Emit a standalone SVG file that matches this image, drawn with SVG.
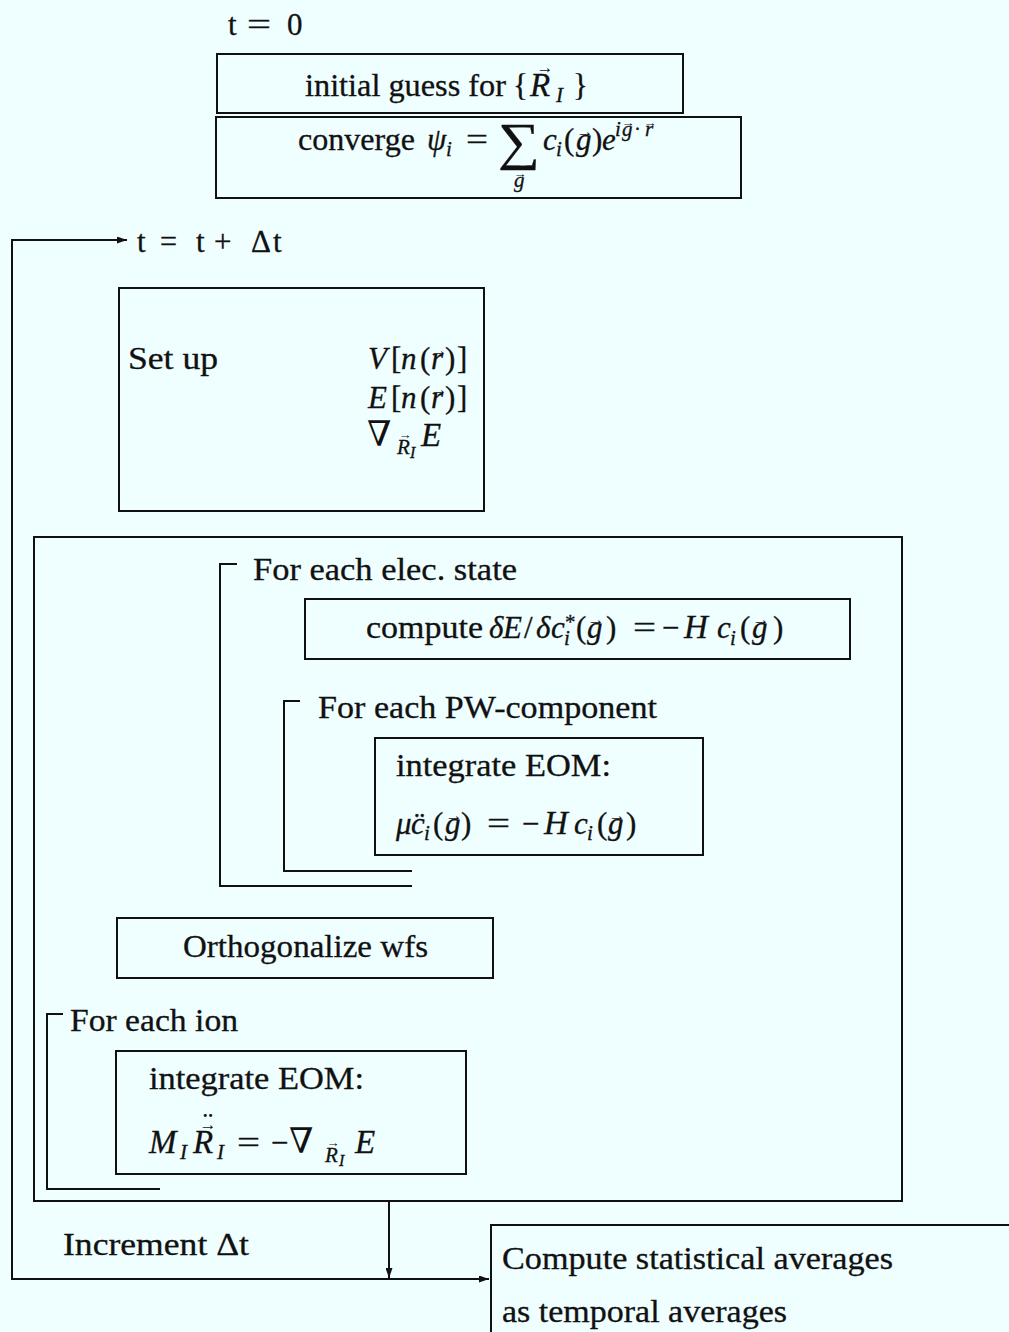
<svg xmlns="http://www.w3.org/2000/svg" width="1009" height="1332" viewBox="0 0 1009 1332">
<style>
.t{font-family:"Liberation Serif","Times New Roman","DejaVu Serif",serif;font-size:31px;fill:#111;stroke:#111;stroke-width:0.3}
.i{font-style:italic}
.s{font-size:21px}
.ss{font-size:16px}
.b{font-size:33px}
.nb{font-family:"DejaVu Serif","Liberation Serif",serif;font-size:35px;stroke-width:0}
.v{font-family:"Liberation Serif","DejaVu Serif",serif;font-size:17px;fill:#111;text-anchor:middle}
.vs{font-family:"Liberation Serif","DejaVu Serif",serif;font-size:13px;fill:#111;text-anchor:middle}
.dd{font-family:"Liberation Serif",serif;font-size:31px;fill:#111;text-anchor:middle}
.box{fill:none;stroke:#111;stroke-width:2}
.ln{fill:none;stroke:#111;stroke-width:2}
</style>
<defs>
<marker id="ah" viewBox="0 0 10 7" refX="10" refY="3.5" markerWidth="10" markerHeight="7" markerUnits="userSpaceOnUse" orient="auto-start-reverse">
<path d="M0,0 L10,3.5 L0,7 z" fill="#111"/>
</marker>
</defs>
<rect x="0" y="0" width="1009" height="1332" fill="#effeff"/>

<g id="t0">
<text class="t" y="35"><tspan x="228">t</tspan><tspan x="247" textLength="24" lengthAdjust="spacingAndGlyphs">=</tspan><tspan x="287">0</tspan></text>
</g>

<g id="initial-guess">
<rect class="box" x="217" y="54" width="466" height="59"/>
<text class="t" y="96"><tspan x="305" textLength="201" lengthAdjust="spacingAndGlyphs">initial guess for</tspan><tspan x="513">{</tspan><tspan class="i b" x="530">R</tspan><tspan class="i s" x="556" y="102">I</tspan><tspan x="573" y="96">}</tspan></text>
<text class="v" x="545" y="73">→</text>
</g>

<g id="converge">
<rect class="box" x="216" y="117" width="525" height="81"/>
<text class="t" y="150"><tspan x="298" textLength="117" lengthAdjust="spacingAndGlyphs">converge</tspan><tspan class="i" x="427">ψ</tspan><tspan class="i s" x="446" y="156">i</tspan><tspan x="466" y="150" textLength="22" lengthAdjust="spacingAndGlyphs">=</tspan><tspan x="498" y="159" style="font-size:52px" textLength="42" lengthAdjust="spacingAndGlyphs">∑</tspan><tspan class="i" x="543" y="150">c</tspan><tspan class="i s" x="556" y="156">i</tspan><tspan x="564" y="150">(</tspan><tspan class="i" x="576">g</tspan><tspan x="592">)</tspan><tspan class="i" x="602">e</tspan><tspan class="i s" x="615" y="136">i</tspan><tspan class="i s" x="622" y="136">g</tspan><tspan class="s" x="634" y="136">·</tspan><tspan class="i s" x="645" y="136">r</tspan><tspan class="i s" x="514" y="187">g</tspan></text>
<text class="v" x="585" y="137">→</text>
<text class="vs" x="628" y="127">→</text>
<text class="vs" x="650" y="127">→</text>
<text class="vs" x="520" y="178">→</text>
</g>

<g id="t-update">
<text class="t" y="252"><tspan x="137">t</tspan><tspan x="160" textLength="17" lengthAdjust="spacingAndGlyphs">=</tspan><tspan x="196">t</tspan><tspan x="214">+</tspan><tspan x="251">Δ</tspan><tspan x="273">t</tspan></text>
</g>

<g id="setup">
<rect class="box" x="119" y="288" width="365" height="223"/>
<text class="t" x="128" y="369" textLength="90" lengthAdjust="spacingAndGlyphs">Set up</text>
<text class="t" y="369"><tspan class="i" x="368">V</tspan><tspan x="391">[</tspan><tspan class="i" x="401">n</tspan><tspan x="420">(</tspan><tspan class="i" x="431">r</tspan><tspan x="445">)</tspan><tspan x="457">]</tspan></text>
<text class="v" x="439" y="356">→</text>
<text class="t" y="408"><tspan class="i" x="368">E</tspan><tspan x="391">[</tspan><tspan class="i" x="401">n</tspan><tspan x="420">(</tspan><tspan class="i" x="431">r</tspan><tspan x="445">)</tspan><tspan x="457">]</tspan></text>
<text class="v" x="439" y="395">→</text>
<text class="t" y="446"><tspan class="nb" x="367">∇</tspan><tspan class="i s" x="397" y="454">R</tspan><tspan class="i ss" x="410" y="458">I</tspan><tspan class="i b" x="421" y="446">E</tspan></text>
<text class="vs" x="405" y="439">→</text>
</g>

<g id="md-loop">
<rect class="box" x="34" y="537" width="868" height="664"/>
</g>

<g id="elec-loop">
<path class="ln" d="M237,564 H220 V886 H412"/>
<text class="t" x="253" y="580" textLength="264" lengthAdjust="spacingAndGlyphs">For each elec. state</text>
</g>

<g id="compute-gradient">
<rect class="box" x="305" y="599" width="545" height="60"/>
<text class="t" y="638"><tspan x="366" textLength="117" lengthAdjust="spacingAndGlyphs">compute</tspan><tspan class="i" x="489">δ</tspan><tspan class="i" x="503">E</tspan><tspan x="524">/</tspan><tspan class="i" x="536">δ</tspan><tspan class="i" x="551">c</tspan><tspan class="s" x="565" y="629">*</tspan><tspan class="i s" x="564" y="645">i</tspan><tspan x="576" y="638">(</tspan><tspan class="i" x="587">g</tspan><tspan x="606">)</tspan><tspan x="633" textLength="23" lengthAdjust="spacingAndGlyphs">=</tspan><tspan x="662">−</tspan><tspan class="i b" x="684">H</tspan><tspan class="i" x="717">c</tspan><tspan class="i s" x="730" y="645">i</tspan><tspan x="740" y="638">(</tspan><tspan class="i" x="752">g</tspan><tspan x="773">)</tspan></text>
<text class="v" x="596" y="625">→</text>
<text class="v" x="761" y="625">→</text>
</g>

<g id="pw-loop">
<path class="ln" d="M300,701 H284 V871 H412"/>
<text class="t" x="318" y="718" textLength="339" lengthAdjust="spacingAndGlyphs">For each PW-component</text>
</g>

<g id="integrate-elec">
<rect class="box" x="375" y="738" width="328" height="117"/>
<text class="t" x="396" y="776" textLength="215" lengthAdjust="spacingAndGlyphs">integrate EOM:</text>
<text class="t" y="834"><tspan class="i" x="396">μ</tspan><tspan class="i" x="411">c&#x0308;</tspan><tspan class="i s" x="424" y="840">i</tspan><tspan x="433" y="834">(</tspan><tspan class="i" x="445">g</tspan><tspan x="461">)</tspan><tspan x="487" textLength="23" lengthAdjust="spacingAndGlyphs">=</tspan><tspan x="522">−</tspan><tspan class="i b" x="544">H</tspan><tspan class="i" x="574">c</tspan><tspan class="i s" x="587" y="840">i</tspan><tspan x="597" y="834">(</tspan><tspan class="i" x="608">g</tspan><tspan x="626">)</tspan></text>
<text class="v" x="454" y="821">→</text>
<text class="v" x="617" y="821">→</text>
</g>

<g id="orthogonalize">
<rect class="box" x="117" y="918" width="376" height="60"/>
<text class="t" x="183" y="957" textLength="245" lengthAdjust="spacingAndGlyphs">Orthogonalize wfs</text>
</g>

<g id="ion-loop">
<path class="ln" d="M63,1014 H47 V1189 H160"/>
<text class="t" x="70" y="1031" textLength="168" lengthAdjust="spacingAndGlyphs">For each ion</text>
</g>

<g id="integrate-ion">
<rect class="box" x="116" y="1051" width="350" height="123"/>
<text class="t" x="149" y="1089" textLength="215" lengthAdjust="spacingAndGlyphs">integrate EOM:</text>
<text class="t" y="1153"><tspan class="i b" x="149">M</tspan><tspan class="i s" x="180" y="1159">I</tspan><tspan class="i b" x="193" y="1153">R</tspan><tspan class="i s" x="217" y="1159">I</tspan><tspan x="237" y="1153" textLength="23" lengthAdjust="spacingAndGlyphs">=</tspan><tspan x="271">−</tspan><tspan class="nb" x="289">∇</tspan><tspan class="i s" x="325" y="1162">R</tspan><tspan class="i ss" x="339" y="1166">I</tspan><tspan class="i b" x="355" y="1153">E</tspan></text>
<text class="v" x="208" y="1130">→</text>
<text class="dd" x="208" y="1134">¨</text>
<text class="vs" x="333" y="1147">→</text>
</g>

<g id="increment">
<text class="t" x="63" y="1255" textLength="186" lengthAdjust="spacingAndGlyphs">Increment Δt</text>
</g>

<g id="averages">
<path class="ln" d="M1009,1225 H491 V1332"/>
<text class="t" x="502" y="1269" textLength="391" lengthAdjust="spacingAndGlyphs">Compute statistical averages</text>
<text class="t" x="502" y="1322" textLength="285" lengthAdjust="spacingAndGlyphs">as temporal averages</text>
</g>

<g id="connectors">
<path class="ln" d="M127,240 H12 V1279 H489" marker-start="url(#ah)" marker-end="url(#ah)"/>
<path class="ln" d="M389,1201 V1278" marker-end="url(#ah)"/>
</g>
</svg>
